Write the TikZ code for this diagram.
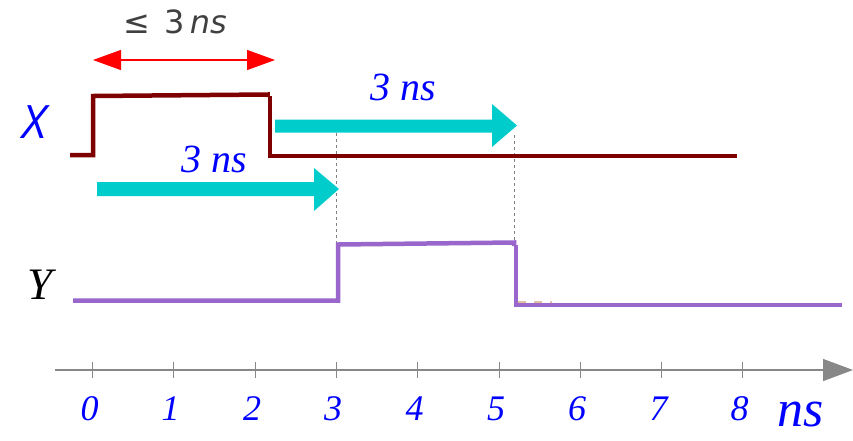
\documentclass[tikz,border=0pt]{standalone}
\usepackage{fontspec}
\setmainfont{Liberation Serif}
\newfontfamily\dvs{DejaVu Sans}
\newfontfamily\osans{Open Sans}
\usetikzlibrary{arrows.meta}
\definecolor{xred}{HTML}{7F0000}
\definecolor{ypur}{HTML}{9966CC}
\definecolor{cyanA}{HTML}{00CCCC}
\definecolor{axg}{HTML}{888888}
\definecolor{txg}{HTML}{404040}
\begin{document}
\begin{tikzpicture}[x=1pt,y=-1pt,
  sig/.style={line width=4.5pt,line join=miter},
  lbl/.style={text=blue,font=\fontsize{40}{42}\selectfont\itshape},
  axl/.style={text=blue,font=\fontsize{36}{38}\selectfont\itshape},
  guide/.style={draw=gray,dashed,line width=0.6pt},
  bigarrow/.style={fill=cyanA,draw=none}]
\useasboundingbox (0,0) rectangle (853,440);
% labels
\node[text=blue,font=\osans\fontsize{46}{48}\selectfont\itshape] (lx) at (35,122) {X};
\node[text=black,font=\fontsize{45}{47}\selectfont\itshape] (ly) at (40,285) {Y};
\node[text=txg,font=\dvs\fontsize{32}{34}\selectfont] (le) at (175,22) {≤\;\,3\,{\itshape ns}};
% red dimension arrow
\coordinate (ra) at (93,60);
\coordinate (rb) at (275,60);
\draw[red,line width=1.2pt,{Triangle[length=28pt,width=20pt]}-{Triangle[length=28pt,width=20pt]}] (ra) -- (rb);
% guides
\coordinate (g1t) at (336.5,133);
\coordinate (g1b) at (336.5,245);
\coordinate (g2t) at (514,135);
\coordinate (g2b) at (514,243);
\draw[guide] (g1t) -- (g1b);
\draw[guide] (g2t) -- (g2b);
% cyan arrows
\fill[bigarrow] (97,182) -- (314,182) -- (314,168) -- (339,189) -- (314,211) -- (314,196) -- (97,196) -- cycle;
\fill[bigarrow] (275,119.5) -- (492,119.5) -- (492,104) -- (517,125.5) -- (492,147) -- (492,132.5) -- (275,132.5) -- cycle;
\node[lbl] (t1) at (214,159) {3 ns};
\node[lbl] (t2) at (403,87) {3 ns};
% X signal
\draw[sig,xred] (70,155) -- (93,155) -- (93,96) -- (267.5,94.5) -- (267.5,97);
\draw[sig,xred] (270,96) -- (270,156) -- (737,156);
% Y signal
\draw[draw=brown!50,line width=2pt,dash pattern=on 8pt off 8pt] (518,302) -- (552,302);
\draw[sig,ypur] (73,300.5) -- (338,300.5) -- (338,244.5) -- (514,242.5) -- (514,246);
\draw[sig,ypur] (516,245) -- (516,305) -- (842,305);
% axis
\coordinate (a0) at (55,370);
\coordinate (a1) at (853,370);
\draw[axg,line width=1.3pt,-{Triangle[length=30pt,width=22pt]}] (a0) -- (a1);
\foreach \i/\x in {0/92.5,1/173.6,2/255,3/336,4/417.5,5/499,6/580,7/661.5,8/742.7}{
  \draw[axg,line width=0.8pt] (\x,362) -- (\x,378);
  \node[axl] (n\i) at (\x-3,409) {\i};
}
\node[text=blue,font=\fontsize{52}{54}\selectfont\itshape] (ns) at (801,414) {ns};
\end{tikzpicture}
\end{document}
